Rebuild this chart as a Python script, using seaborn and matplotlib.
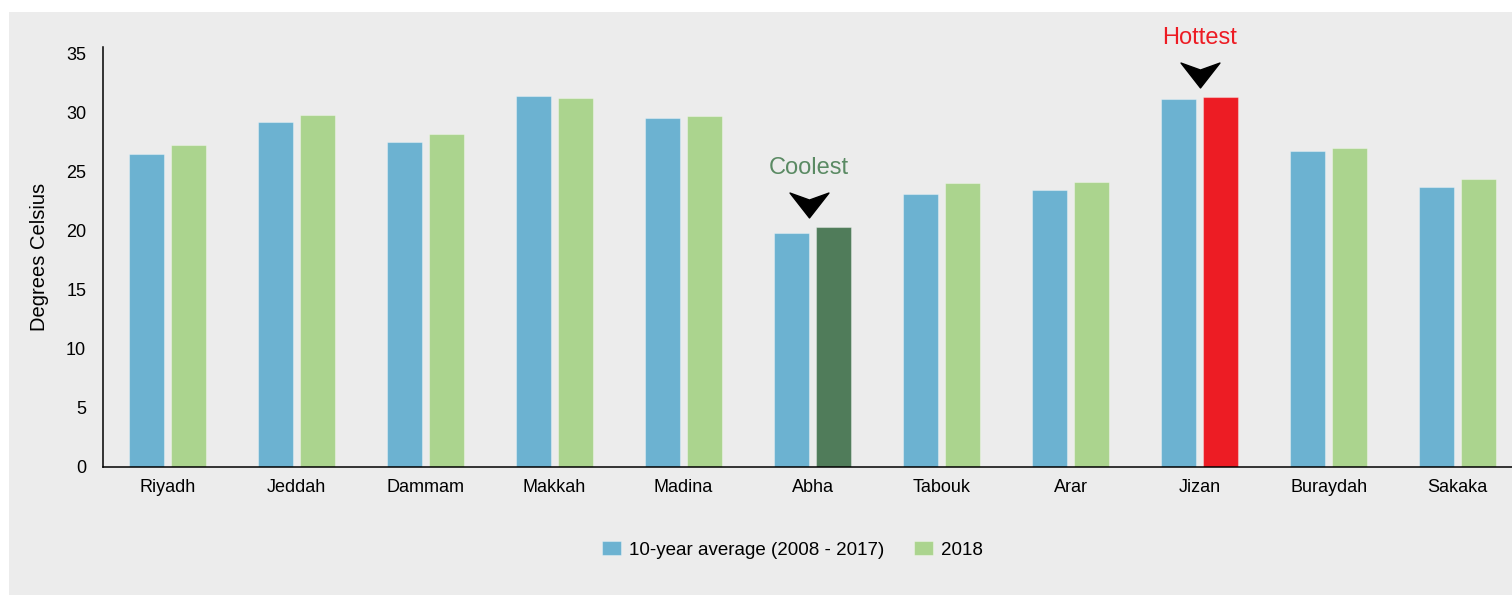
import numpy as np
import pandas as pd
import matplotlib
matplotlib.use('Agg')
import matplotlib.pyplot as plt
from matplotlib.patches import Rectangle
from matplotlib.path import Path
import seaborn as sns

cities = ['Riyadh', 'Jeddah', 'Dammam', 'Makkah', 'Madina', 'Abha',
          'Tabouk', 'Arar', 'Jizan', 'Buraydah', 'Sakaka']
avg_10yr = [26.5, 29.2, 27.5, 31.4, 29.5, 19.8, 23.1, 23.4, 31.1, 26.7, 23.7]
temp_2018 = [27.2, 29.8, 28.2, 31.2, 29.7, 20.3, 24.0, 24.1, 31.3, 27.0, 24.4]
series_names = ['10-year average (2008 - 2017)', '2018']
coolest_city = 'Abha'
hottest_city = 'Jizan'

df = pd.DataFrame({
    'city': cities * 2,
    'temp': avg_10yr + temp_2018,
    'series': [series_names[0]] * len(cities) + [series_names[1]] * len(cities),
})

blue = '#6cb2d1'
green = '#abd48e'
dark_green = '#507c5a'
red = '#ed1c24'
bg = '#ececec'

sns.set_theme(style='white')
plt.rcParams['font.family'] = ['Liberation Sans', 'DejaVu Sans']

fig = plt.figure(figsize=(15.12, 5.95), dpi=100, facecolor='white')
fig.patches.append(Rectangle((9 / 1512, 0), 1, (595 - 12) / 595,
                             transform=fig.transFigure, facecolor=bg,
                             edgecolor='none', zorder=-10))
ax = fig.add_axes([0.068, 0.2157, 0.932, 0.7054])
ax.set_facecolor(bg)

sns.barplot(data=df, x='city', y='temp', hue='series', order=cities,
            palette=[blue, green], saturation=1, width=0.65, gap=0.166, ax=ax,
            edgecolor=(1, 1, 1, 0.35), linewidth=0.8, legend=True)

# highlight coolest / hottest 2018 bars
bars_2018 = ax.containers[1]
i_cool = cities.index(coolest_city)
i_hot = cities.index(hottest_city)
bars_2018[i_cool].set_facecolor(dark_green)
bars_2018[i_hot].set_facecolor(red)

# chevron markers + labels
chev = Path([(-1, 0.64), (0, 0.28), (1, 0.64), (0, -0.64), (-1, 0.64)],
            [Path.MOVETO, Path.LINETO, Path.LINETO, Path.LINETO, Path.CLOSEPOLY])
for i, c, label in [(i_cool, '#5a8a63', 'Coolest'), (i_hot, red, 'Hottest')]:
    v = temp_2018[i]
    xpos = i - 0.03 if i == i_cool else i
    ax.plot([xpos], [v + 1.85], marker=chev, markersize=28, color='black',
            linestyle='none', clip_on=False)
    ax.text(xpos, v + 5, label, color=c, fontsize=17, ha='center',
            va='center', clip_on=False)

ax.set_ylim(0, 35.54)
ax.set_xlim(-0.5, 10.42)
ax.set_yticks(range(0, 36, 5))
ax.set_xlabel('')
ax.set_ylabel('Degrees Celsius', fontsize=14.5, labelpad=12, color='black')
ax.tick_params(axis='both', length=0, labelsize=13, colors='black')
ax.tick_params(axis='y', pad=12)
ax.tick_params(axis='x', pad=9)
sns.despine(ax=ax)
for s in ['left', 'bottom']:
    ax.spines[s].set_color('black')
    ax.spines[s].set_linewidth(1.1)

handles, labels = ax.get_legend_handles_labels()
leg = ax.legend(handles, labels, loc='center', bbox_to_anchor=(0.524, 0.0756),
                bbox_transform=fig.transFigure, ncol=2, frameon=False,
                fontsize=13.5, handlelength=1.04, handleheight=0.72,
                handletextpad=0.4, columnspacing=1.6)
for t in leg.get_texts():
    t.set_color('black')

fig.savefig('out.png', dpi=100, facecolor='white')
